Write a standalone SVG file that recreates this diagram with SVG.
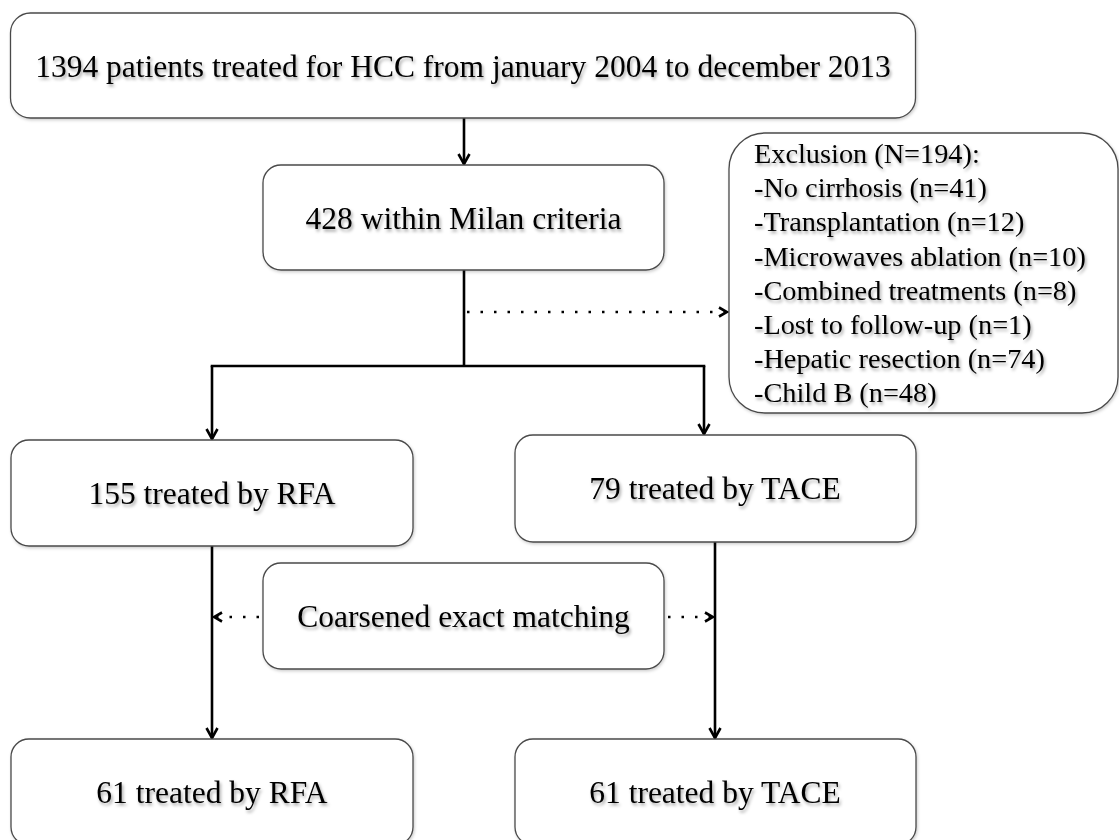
<svg xmlns="http://www.w3.org/2000/svg" width="1119" height="840" viewBox="0 0 1119 840">
  <style>
    .box { fill: #ffffff; stroke: #4a4a4a; stroke-width: 1.3; filter: url(#boxShadow); }
    .t { font-family: "Liberation Serif", "Times New Roman", serif; font-size: 31.5px; fill: #000; text-anchor: middle; filter: url(#textShadow); }
    .tx { font-family: "Liberation Serif", "Times New Roman", serif; font-size: 28.3px; fill: #000; filter: url(#textShadow); }
    .solid { stroke: #000; stroke-width: 2.6; fill: none; }
    .dot { stroke: #000; stroke-width: 2.6; fill: none; stroke-dasharray: 2.5 11; }
  </style>
  <defs>
    <filter id="textShadow" x="-10%" y="-30%" width="120%" height="170%">
      <feDropShadow dx="1.5" dy="2.5" stdDeviation="1.6" flood-color="#000" flood-opacity="0.35"/>
    </filter>
    <filter id="boxShadow" x="-5%" y="-10%" width="110%" height="120%">
      <feDropShadow dx="1" dy="1.5" stdDeviation="1.5" flood-color="#000" flood-opacity="0.2"/>
    </filter>
    <marker id="arr" viewBox="0 0 14 14" refX="12" refY="7" markerWidth="14" markerHeight="14" markerUnits="userSpaceOnUse" orient="auto">
      <path d="M2,1.5 L12,7 L2,12.5" fill="none" stroke="#000" stroke-width="2.6"/>
    </marker>
    <marker id="arrs" viewBox="0 0 12 12" refX="10" refY="6" markerWidth="12" markerHeight="12" markerUnits="userSpaceOnUse" orient="auto">
      <path d="M2,1.5 L10,6 L2,10.5" fill="none" stroke="#000" stroke-width="2.6"/>
    </marker>
  </defs>
  <rect width="1119" height="840" fill="#ffffff"/>

  <g id="connectors">
    <line class="solid" x1="464" y1="118" x2="464" y2="164" marker-end="url(#arr)"/>
    <line class="solid" x1="464" y1="270" x2="464" y2="366"/>
    <line class="solid" x1="210.7" y1="366" x2="705.3" y2="366"/>
    <line class="solid" x1="212" y1="366" x2="212" y2="439" marker-end="url(#arr)"/>
    <line class="solid" x1="704" y1="366" x2="704" y2="434" marker-end="url(#arr)"/>
    <line class="dot" x1="467" y1="312" x2="727" y2="312" marker-end="url(#arrs)"/>
    <line class="solid" x1="212" y1="546" x2="212" y2="738" marker-end="url(#arr)"/>
    <line class="solid" x1="715" y1="542" x2="715" y2="738" marker-end="url(#arr)"/>
    <line class="dot" x1="259" y1="617" x2="214" y2="617" marker-end="url(#arrs)"/>
    <line class="dot" x1="668" y1="617" x2="713" y2="617" marker-end="url(#arrs)"/>
  </g>

  <g id="n-total">
    <rect class="box" x="10.5" y="13" width="905" height="105" rx="20"/>
    <text class="t" x="463" y="77">1394 patients treated for HCC from january 2004 to december 2013</text>
  </g>
  <g id="n-milan">
    <rect class="box" x="263" y="165" width="401" height="105" rx="18"/>
    <text class="t" x="463.5" y="229">428 within Milan criteria</text>
  </g>
  <g id="n-exclusion">
    <rect class="box" x="729" y="133" width="389" height="280" rx="36"/>
    <text class="tx" x="754" y="163">Exclusion (N=194):</text>
    <text class="tx" x="754" y="197.2">-No cirrhosis (n=41)</text>
    <text class="tx" x="754" y="231.4">-Transplantation (n=12)</text>
    <text class="tx" x="754" y="265.6">-Microwaves ablation (n=10)</text>
    <text class="tx" x="754" y="299.8">-Combined treatments (n=8)</text>
    <text class="tx" x="754" y="334">-Lost to follow-up (n=1)</text>
    <text class="tx" x="754" y="368.2">-Hepatic resection (n=74)</text>
    <text class="tx" x="754" y="402.4">-Child B (n=48)</text>
  </g>
  <g id="n-rfa155">
    <rect class="box" x="11" y="440" width="402" height="106" rx="18"/>
    <text class="t" x="212" y="504">155 treated by RFA</text>
  </g>
  <g id="n-tace79">
    <rect class="box" x="515" y="435" width="401" height="107" rx="18"/>
    <text class="t" x="715" y="499">79 treated by TACE</text>
  </g>
  <g id="n-cem">
    <rect class="box" x="263" y="563" width="401" height="106" rx="18"/>
    <text class="t" x="463.5" y="627">Coarsened exact matching</text>
  </g>
  <g id="n-rfa61">
    <rect class="box" x="11" y="739" width="402" height="106" rx="18"/>
    <text class="t" x="212" y="803">61 treated by RFA</text>
  </g>
  <g id="n-tace61">
    <rect class="box" x="515" y="739" width="401" height="106" rx="18"/>
    <text class="t" x="715" y="803">61 treated by TACE</text>
  </g>
</svg>
